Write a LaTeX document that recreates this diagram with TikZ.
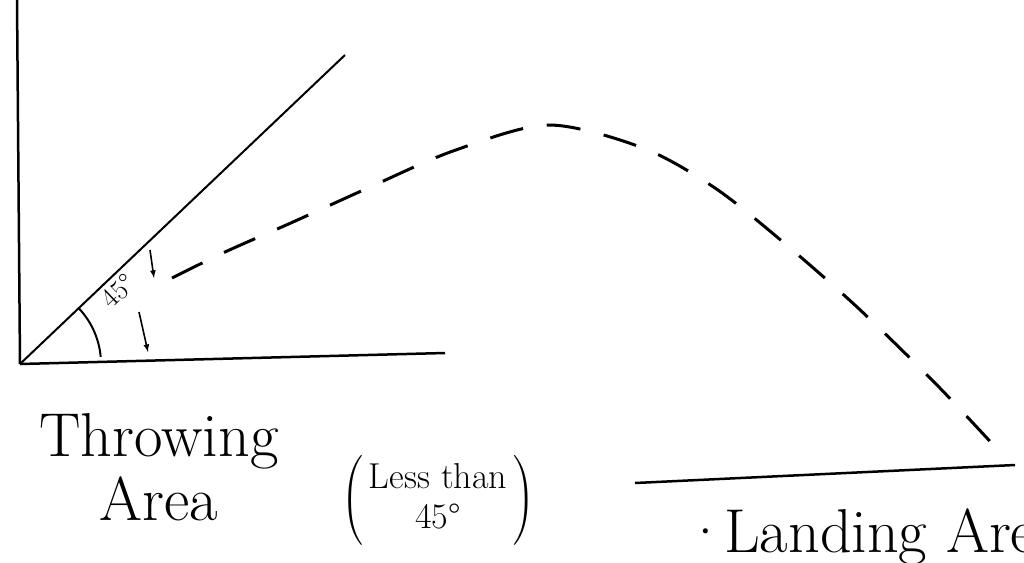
\documentclass[tikz,border=0pt]{standalone}
\usepackage{amsmath}
\usetikzlibrary{arrows}

\begin{document}
\begin{tikzpicture}
  \begin{scope}[x=1pt, y=-1pt]
    \useasboundingbox (0,0) rectangle (1024,562);
    \tikzset{hand/.style={font=\fontsize{62}{70}\selectfont}}
    \coordinate (O) at (20,364);
    \coordinate (top) at (17,0);
    \coordinate (gnd) at (445,353);
    \coordinate (ray) at (345,55);
    \coordinate (land1) at (635,483);
    \coordinate (land2) at (1015,465);
    \draw [line width=2.5pt] (O) -- (top);
    \draw [line width=2.5pt] (O) -- (gnd);
    \draw [line width=2pt] (O) -- (ray);
    \draw [line width=2.5pt] (land1) -- (land2);
    \draw [line width=2pt] (O) ++(-44:81) arc [start angle=-44, end angle=-5, radius=81];
    \node (ang) [rotate=44, font=\fontsize{28}{32}\selectfont, inner sep=0pt] at (118,291) {45\textdegree};
    \draw [->, >=latex, line width=1.6pt] (150,250) -- (154,278);
    \draw [->, >=latex, line width=1.6pt] (139,312) -- (148,352);
    \draw [line width=3pt, dash pattern=on 34pt off 24pt, smooth] plot coordinates {(172,278) (225,252) (293,222) (368,188) (453,151) (548,125) (643,148) (715,188) (783,242) (857,307) (935,383) (998,450)};
    \node (thr) [hand, anchor=base west] at (36,456) {Throwing};
    \node (area) [hand, anchor=base west] at (96,520) {Area};
    \node (less) [font=\fontsize{36}{40}\selectfont] at (438,500) {$\left(\begin{tabular}{c}Less than\\45\textdegree\end{tabular}\right)$};
    \node (landing) [hand, anchor=base west] at (680,552) {\textperiodcentered\hspace{-4pt}Landing Area};
  \end{scope}
\end{tikzpicture}
\end{document}
